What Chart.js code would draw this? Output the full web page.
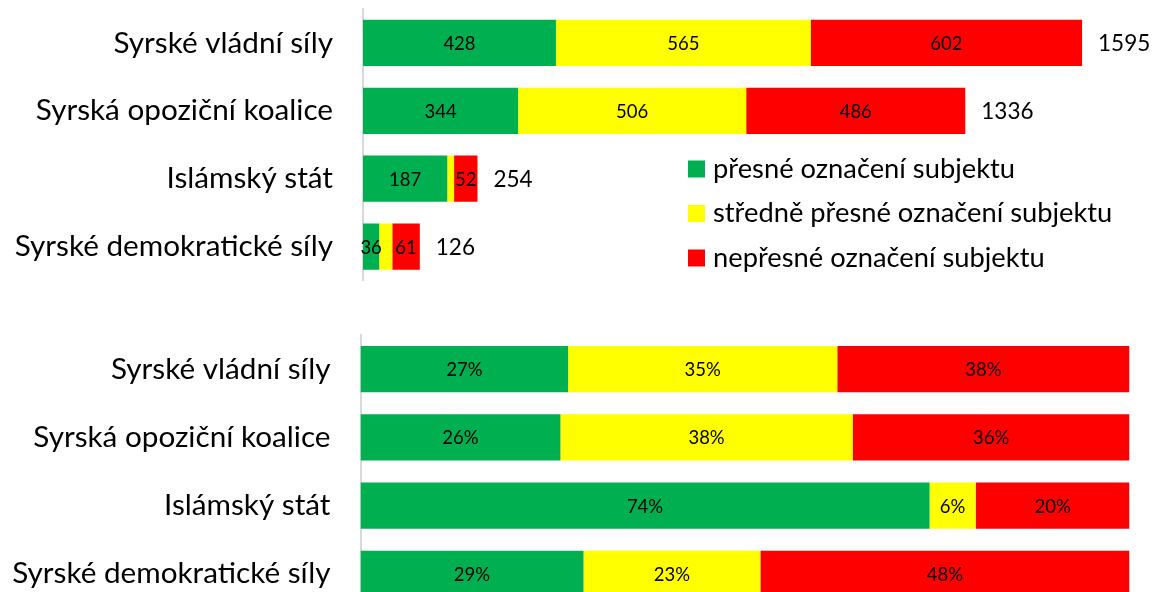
<!DOCTYPE html>
<html>
<head>
<meta charset="utf-8">
<script src="https://cdn.jsdelivr.net/npm/chart.js@4.4.1/dist/chart.umd.min.js"></script>
<style>
  html, body { margin: 0; padding: 0; background: #ffffff; overflow: hidden; }
  #wrap { position: relative; width: 1160px; height: 592px; overflow: hidden; }
  #c1box { position: absolute; left: 0; top: 0; width: 1160px; height: 295px; }
  #c2box { position: absolute; left: 0; top: 300px; width: 1160px; height: 320px; }
</style>
</head>
<body>
<div id="wrap">
  <div id="c1box"><canvas id="c1"></canvas></div>
  <div id="c2box"><canvas id="c2"></canvas></div>
</div>
<script>
// ---- data ----
const categories = ["Syrské vládní síly", "Syrská opoziční koalice", "Islámský stát", "Syrské demokratické síly"];
const seriesNames = ["přesné označení subjektu", "středně přesné označení subjektu", "nepřesné označení subjektu"];
const countsPrecise = [428, 344, 187, 36];
const countsMedium  = [565, 506, 15, 29];
const countsVague   = [602, 486, 52, 61];
const countsTotal   = [1595, 1336, 254, 126];
const pctPrecise = [27, 26, 74, 29];
const pctMedium  = [35, 38, 6, 23];
const pctVague   = [38, 36, 20, 48];

const colors = ["#00B050", "#FFFF00", "#FF0000"];
const FONT = "Lato, 'Open Sans', sans-serif";

const labelsPlugin = {
  id: 'segLabels',
  afterDatasetsDraw(chart, args, opts) {
    const ctx = chart.ctx;
    ctx.save();
    ctx.fillStyle = '#000';
    ctx.textBaseline = 'middle';
    ctx.textAlign = 'center';
    ctx.font = opts.size + 'px ' + FONT;
    chart.data.datasets.forEach((ds, di) => {
      const meta = chart.getDatasetMeta(di);
      meta.data.forEach((el, i) => {
        const w = Math.abs(el.x - el.base);
        if (w < opts.minWidth) return;
        const v = ds.data[i];
        ctx.fillText(v + opts.suffix, (el.x + el.base) / 2, el.y + 1);
      });
    });
    if (opts.totals) {
      const last = chart.getDatasetMeta(chart.data.datasets.length - 1);
      ctx.textAlign = 'left';
      ctx.font = opts.totalSize + 'px ' + FONT;
      last.data.forEach((el, i) => {
        ctx.fillText(String(opts.totals[i]), el.x + 16, el.y + 1);
      });
    }
    ctx.restore();
  }
};

const legendPlugin = {
  id: 'customLegend',
  afterDraw(chart, args, opts) {
    if (!opts.show) return;
    const ctx = chart.ctx;
    ctx.save();
    ctx.textBaseline = 'middle';
    ctx.textAlign = 'left';
    ctx.font = opts.size + 'px ' + FONT;
    chart.data.datasets.forEach((ds, i) => {
      const y = opts.y + i * opts.step;
      ctx.fillStyle = ds.backgroundColor;
      ctx.fillRect(opts.x, y - 8.5, 17, 17);
      ctx.fillStyle = '#000';
      ctx.fillText(ds.label, opts.x + 25, y);
    });
    ctx.restore();
  }
};

function makeDatasets(a, b, c) {
  return [a, b, c].map((d, i) => ({
    label: seriesNames[i],
    data: d,
    backgroundColor: colors[i],
    borderWidth: 0,
    barPercentage: 0.68,
    categoryPercentage: 1.0
  }));
}

function makeOptions(cfg) {
  return {
    indexAxis: 'y',
    responsive: true,
    maintainAspectRatio: false,
    animation: false,
    layout: { padding: { top: cfg.padTop, bottom: cfg.padBottom, right: cfg.padRight, left: 0 } },
    plugins: {
      legend: { display: false },
      tooltip: { enabled: false },
      segLabels: { size: 18.5, suffix: cfg.suffix, minWidth: cfg.minWidth, totals: cfg.totals, totalSize: 22.5 },
      customLegend: cfg.legend
    },
    scales: {
      x: { stacked: true, min: 0, max: cfg.max, display: false },
      y: {
        stacked: true,
        grid: { display: false, drawTicks: false },
        border: { display: true, color: '#d9d9d9', width: 2 },
        ticks: { color: '#000', padding: 30, font: { family: FONT, size: 29.7 } },
        afterFit(scale) {
          scale.width = cfg.axisX;
          scale.paddingTop = 0;
          scale.paddingBottom = 0;
        }
      }
    }
  };
}

new Chart(document.getElementById('c1'), {
  type: 'bar',
  data: { labels: categories, datasets: makeDatasets(countsPrecise, countsMedium, countsVague) },
  options: makeOptions({ padTop: 9, padBottom: 14.5, padRight: 30.6, max: 1700, axisX: 363, suffix: '', minWidth: 14, totals: countsTotal,
    legend: { show: true, x: 688, y: 169, step: 44.5, size: 27.3 } }),
  plugins: [labelsPlugin, legendPlugin]
});

new Chart(document.getElementById('c2'), {
  type: 'bar',
  data: { labels: categories, datasets: makeDatasets(pctPrecise, pctMedium, pctVague) },
  options: makeOptions({ padTop: 35, padBottom: 12, padRight: 30.5, max: 100, axisX: 360.5, suffix: '%', minWidth: 0, totals: null,
    legend: { show: false } }),
  plugins: [labelsPlugin, legendPlugin]
});
</script>
</body>
</html>
